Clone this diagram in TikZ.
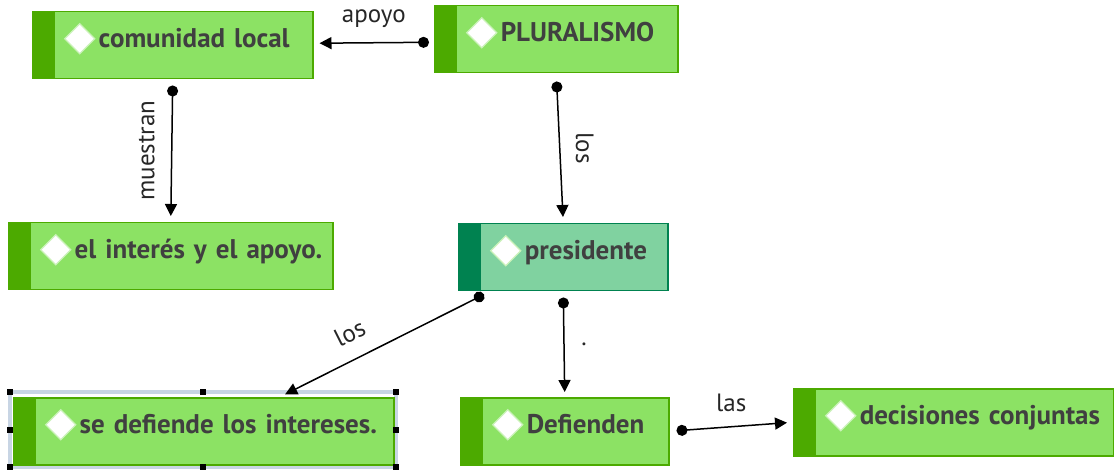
\documentclass[tikz,border=0pt]{standalone}
\usepackage{xcolor}
\usepackage{fontspec}
\setmainfont{PT Sans}
\usetikzlibrary{arrows.meta}

\definecolor{leaf}{HTML}{8CE264}
\definecolor{leafedge}{HTML}{4CAA00}
\definecolor{mint}{HTML}{80D2A0}
\definecolor{mintedge}{HTML}{008250}
\definecolor{ink}{HTML}{404040}
\definecolor{handle}{HTML}{C8D5E4}

\tikzset{
	stripcol/.store in=\stripcol, stripcol=leafedge,
	concept/.style={rectangle, draw=leafedge, fill=leaf, line width=1.5pt, anchor=north west,
		inner sep=0pt, minimum height=67pt, text width=#1, align=left,
		text height=20pt, text depth=15pt, text=ink, font=\bfseries\fontsize{27}{32}\selectfont,
		execute at begin node=\hspace*{66pt},
		path picture={
			\fill[fill=\stripcol] (path picture bounding box.north west) rectangle ([xshift=22pt]path picture bounding box.south west);
			\filldraw[fill=white, draw=leaf!45!white, line width=1.2pt]
				([shift={(47pt,-12pt)}]path picture bounding box.north west) -- ++(15pt,-15pt) -- ++(-15pt,-15pt) -- ++(-15pt,15pt) -- cycle;
		}},
	link/.style={line width=1.5pt, {Circle[length=11pt]}-{Triangle[length=12pt,width=12pt]}},
	lbl/.style={font=\fontsize{25}{28}\selectfont, text=black!85}
}

\begin{document}
\begin{tikzpicture}[x=1pt, y=-1pt]
	\useasboundingbox (0,0) rectangle (1114,470);
	\draw[handle, line width=3.5pt] (10,392) rectangle (396,467);

	\node[concept=280pt] (comunidad) at (32,11) {comunidad local};
	\node[concept=243pt] (pluralismo) at (434,5) {PLURALISMO};
	\node[concept=324pt] (interes) at (8,222) {el interés y el apoyo.};
	\node[concept=209pt, fill=mint, draw=mintedge, stripcol=mintedge] (presidente) at (458,223) {presidente};
	\node[concept=380pt] (defiende) at (13,397) {se defiende los intereses.};
	\node[concept=208pt] (defienden) at (460,397) {Defienden};
	\node[concept=320pt] (decisiones) at (793,388) {decisiones conjuntas};

	\foreach \hx/\hy in {10/392, 203/392, 396/392, 10/429.5, 396/429.5, 10/467, 203/467, 396/467}
		\fill (\hx-3,\hy-3) rectangle (\hx+3,\hy+3);

	\draw[link, shorten <=5pt, shorten >=6pt] ([yshift=-3pt]pluralismo.west) -- ([yshift=2pt]comunidad.east) node[lbl, midway, above=11pt] {apoyo};
	\draw[link, shorten <=6pt, shorten >=6pt] (comunidad.south) -- (interes.north) node[lbl, midway, xshift=-25pt, rotate=90] {muestran};
	\draw[link, shorten <=8pt, shorten >=6pt] (pluralismo.south) -- (presidente.north) node[lbl, midway, xshift=25pt, rotate=-90] {los};
	\draw[link, shorten >=6pt] ([xshift=26pt,yshift=-3pt]presidente.south west) -- ([xshift=76pt]defiende.north) node[lbl, pos=0.6, sloped, above=13pt] {los};
	\draw[link, shorten <=6pt, shorten >=5pt] (presidente.south) -- (defienden.north) node[lbl, midway, xshift=20pt] {.};
	\draw[link, shorten <=7pt, shorten >=6pt] (defienden.east) -- (decisiones.west) node[lbl, midway, above=11pt] {las};
\end{tikzpicture}
\end{document}
